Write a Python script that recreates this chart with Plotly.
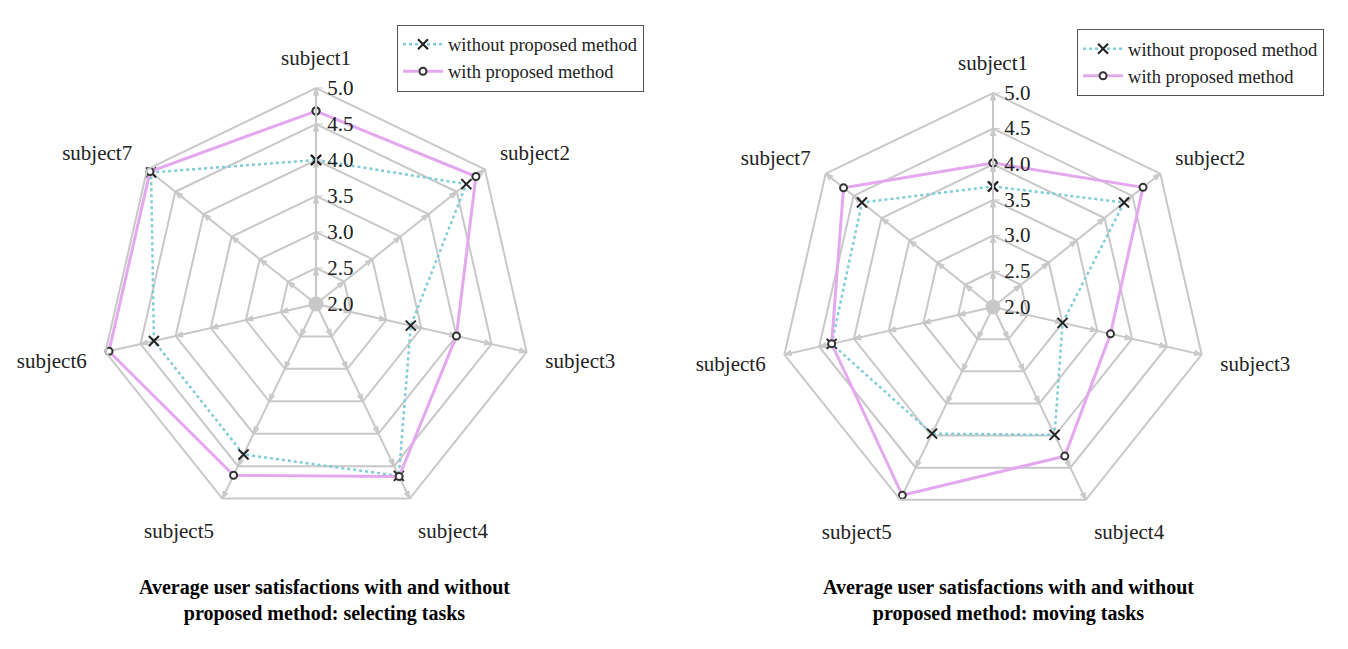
import plotly.graph_objects as go

subjects = ["subject1", "subject2", "subject3", "subject4", "subject5", "subject6", "subject7"]
radial_ticks = [2.0, 2.5, 3.0, 3.5, 4.0, 4.5, 5.0]

sel_without = [4.0, 4.67, 3.35, 4.65, 4.32, 4.31, 4.93]
sel_with = [4.68, 4.84, 4.0, 4.66, 4.64, 4.95, 4.95]

mov_without = [3.69, 4.35, 3.0, 3.99, 3.97, 4.32, 4.35]
mov_with = [4.02, 4.69, 3.69, 4.32, 4.93, 4.32, 4.68]

titles = [
    "Average user satisfactions with and without<br>proposed method: selecting tasks",
    "Average user satisfactions with and without<br>proposed method: moving tasks",
]

FONT = "Liberation Serif, Times New Roman, serif"
GRID = "#c8c8c8"
CYAN = "#80ccd8"
PINK = "#e4a8ee"


def closed(v):
    return list(v) + [v[0]]


fig = go.Figure()

n = len(subjects)
for i, (wo, wi, pol, leg) in enumerate([
    (sel_without, sel_with, "polar", "legend"),
    (mov_without, mov_with, "polar2", "legend2"),
]):
    # small arrowheads on the spokes at each ring
    for k, s in enumerate(subjects):
        fig.add_trace(go.Scatterpolar(
            r=radial_ticks[1:], theta=[s] * (len(radial_ticks) - 1), subplot=pol,
            mode="markers", showlegend=False, hoverinfo="skip", cliponaxis=False,
            marker=dict(symbol="arrow-open", size=7, angle=k * 360 / n, angleref="up",
                        color=GRID, line=dict(color=GRID, width=1.5))))
    fig.add_trace(go.Scatterpolar(
        r=[radial_ticks[0] + 0.001], theta=[subjects[0]], subplot=pol, mode="markers",
        marker=dict(color=GRID, size=15), showlegend=False, hoverinfo="skip",
        cliponaxis=False))
    fig.add_trace(go.Scatterpolar(
        r=closed(wo), theta=closed(subjects), subplot=pol, legend=leg,
        name="without proposed method", mode="lines+markers", cliponaxis=False,
        line=dict(color=CYAN, width=2.5, dash="dot"),
        marker=dict(symbol="x-thin-open", size=10, color="#222222",
                    line=dict(color="#222222", width=2))))
    fig.add_trace(go.Scatterpolar(
        r=closed(wi), theta=closed(subjects), subplot=pol, legend=leg,
        name="with proposed method", mode="lines+markers", cliponaxis=False,
        line=dict(color=PINK, width=3),
        marker=dict(symbol="circle", size=7, color="white",
                    line=dict(color="#333333", width=2))))

polar_common = dict(
    gridshape="linear",
    bgcolor="white",
    radialaxis=dict(
        range=[2, 5], tickvals=radial_ticks, ticktext=[f"{v:.1f}" for v in radial_ticks],
        angle=90, tickangle=90, showline=True, linecolor=GRID, linewidth=2,
        gridcolor=GRID, gridwidth=2, ticks="outside", ticklen=6, tickcolor=GRID,
        tickfont=dict(family=FONT, size=21, color="#222222"), side="clockwise"),
    angularaxis=dict(
        direction="clockwise", rotation=90, showline=True, linecolor=GRID, linewidth=2,
        gridcolor=GRID, gridwidth=2, ticks="outside", ticklen=14,
        tickcolor="rgba(0,0,0,0)",
        tickfont=dict(family=FONT, size=21, color="#222222")),
)

fig.update_layout(
    width=1348, height=649,
    margin=dict(l=0, r=0, t=0, b=0),
    paper_bgcolor="white",
    font=dict(family=FONT, color="#222222"),
    polar=dict(domain=dict(x=[0.0742, 0.3947], y=[0.1988, 0.8644]), **polar_common),
    polar2=dict(domain=dict(x=[0.5779, 0.8954], y=[0.1972, 0.8567]), **polar_common),
    legend=dict(x=0.2945, y=0.962, xanchor="left", yanchor="top",
                bordercolor="#555555", borderwidth=1, bgcolor="white",
                font=dict(family=FONT, size=18.5), tracegroupgap=0, itemwidth=40),
    legend2=dict(x=0.799, y=0.955, xanchor="left", yanchor="top",
                 bordercolor="#555555", borderwidth=1, bgcolor="white",
                 font=dict(family=FONT, size=18.5), tracegroupgap=0, itemwidth=40),
)

for x, t in zip([0.241, 0.7485], titles):
    fig.add_annotation(x=x, y=1 - 600 / 649, xref="paper", yref="paper",
                       text=f"<b>{t}</b>", showarrow=False,
                       font=dict(family=FONT, size=20, color="black"),
                       xanchor="center", yanchor="middle")

fig.write_html("out.html", config={"displayModeBar": False},
               post_script="document.body.style.margin='0';")
